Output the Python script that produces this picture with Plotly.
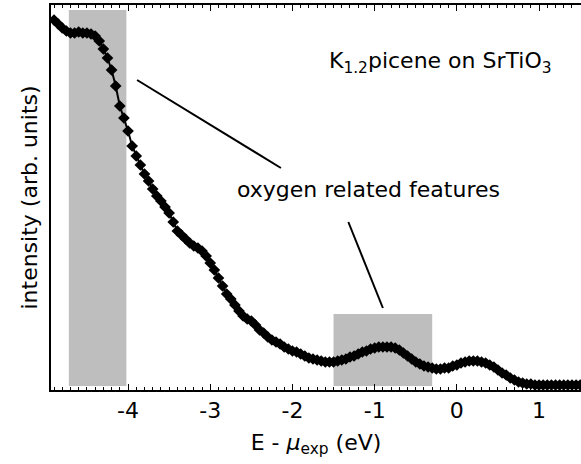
import plotly.graph_objects as go

energy = [round(-4.90 + 0.05 * i, 2) for i in range(129)]
intensity = [
    369, 365, 361, 358, 356, 356, 357, 356, 356, 355,
    353, 348, 340, 331, 319, 303, 283, 271, 258, 243,
    233, 224, 215, 208, 200, 193, 188, 182, 176, 167,
    158, 154, 150, 146, 143, 141, 138, 133, 126, 119,
    111, 103, 95, 90, 84, 78, 73, 70, 68, 64,
    59, 56, 52, 49, 47, 45, 42, 40, 38, 37,
    35, 33, 31, 30, 29, 28, 27, 27, 27, 28,
    29, 30, 32, 33, 35, 37, 38, 40, 41, 42,
    42, 42, 42, 41, 39, 36, 33, 30, 27, 25,
    23, 22, 21, 20, 20, 21, 21, 23, 24, 26,
    27, 28, 28, 28, 27, 26, 24, 22, 19, 16,
    14, 11, 9, 7, 6, 5, 5, 4, 4, 4,
    4, 4, 4, 4, 4, 4, 4, 4, 4,
]
tick_vals = [-4, -3, -2, -1, 0, 1]
tick_text = ["-4", "-3", "-2", "-1", "0", "1"]
highlight_regions = [(-4.72, -4.02, 3, 379), (-1.50, -0.30, 3, 75)]

FONT = "DejaVu Sans"
FS = 22

fig = go.Figure()
fig.add_trace(go.Scatter(
    x=energy, y=intensity, mode="lines+markers",
    line=dict(color="black", width=2),
    marker=dict(symbol="diamond", size=9, color="black"),
    showlegend=False,
))

for x0, x1, y0, y1 in highlight_regions:
    fig.add_shape(type="rect", x0=x0, x1=x1, y0=y0, y1=y1, xref="x", yref="y",
                  fillcolor="#bebebe", line=dict(width=0), layer="below")

fig.add_shape(type="line", x0=-3.89, y0=309, x1=-2.14, y1=221,
              line=dict(color="black", width=2))
fig.add_shape(type="line", x0=-1.32, y0=167, x1=-0.90, y1=81,
              line=dict(color="black", width=2))

fig.add_annotation(x=-1.08, y=200, text="oxygen related features", showarrow=False,
                   font=dict(family=FONT, size=FS, color="black"))
fig.add_annotation(x=-0.20, y=327, text="K<sub>1.2</sub>picene on SrTiO<sub>3</sub>",
                   showarrow=False, font=dict(family=FONT, size=FS, color="black"))

fig.update_layout(
    width=581, height=464,
    margin=dict(l=51, r=0, t=5, b=74),
    paper_bgcolor="white", plot_bgcolor="white",
    font=dict(family=FONT, size=FS, color="black"),
    xaxis=dict(
        range=[-4.937, 1.51], showgrid=False, zeroline=False,
        showline=True, linecolor="black", linewidth=1.5, mirror="ticks",
        ticks="inside", ticklen=6, tickwidth=1, tickcolor="black",
        tickvals=tick_vals, ticktext=tick_text,
        minor=dict(dtick=0.1, ticks="inside", ticklen=3, tickcolor="black", tickwidth=1, showgrid=False),
        title=dict(text="E - <i>μ</i><sub>exp</sub> (eV)", font=dict(family=FONT, size=FS), standoff=12),
        tickfont=dict(family=FONT, size=FS),
    ),
    yaxis=dict(
        range=[-1, 384], showgrid=False, zeroline=False,
        showline=True, linecolor="black", linewidth=1.5, mirror=False,
        ticks="", showticklabels=False,
        title=dict(text="intensity (arb. units)", font=dict(family=FONT, size=FS), standoff=6),
    ),
)

fig.write_html("out.html")
